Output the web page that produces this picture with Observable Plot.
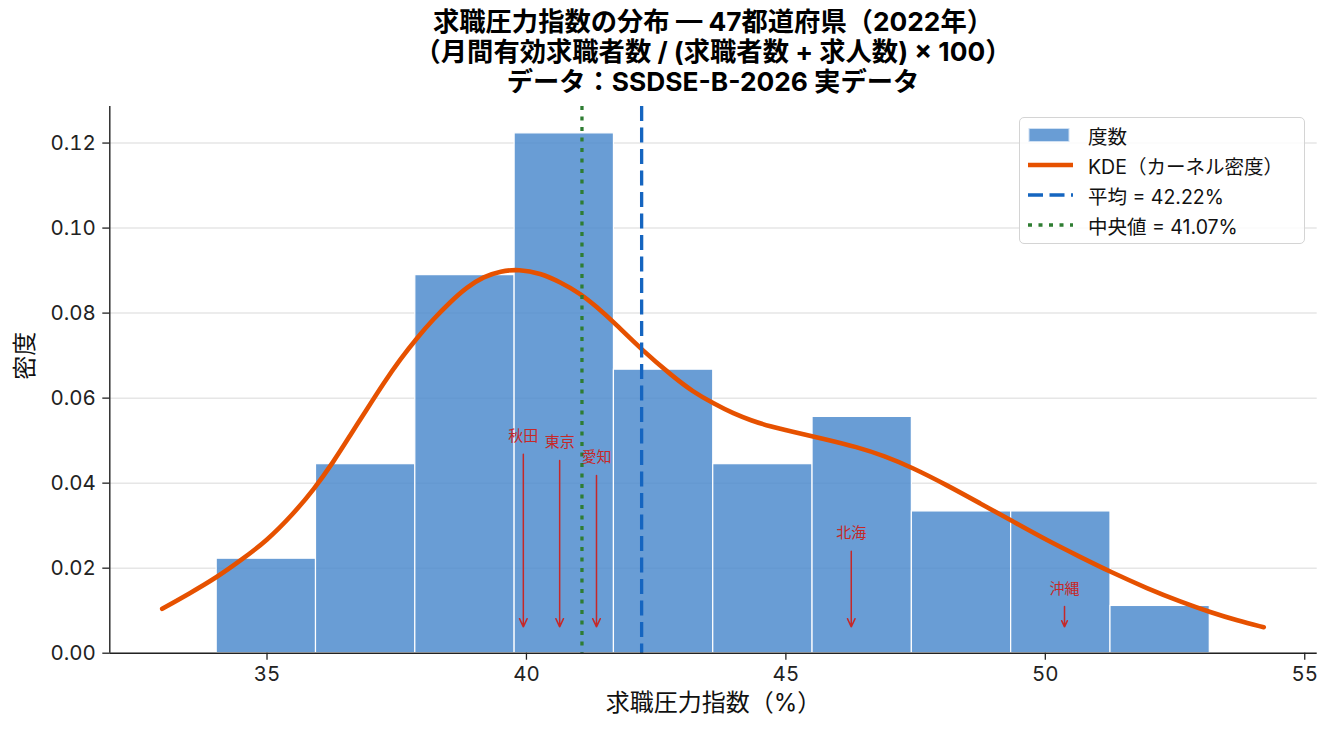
<!DOCTYPE html>
<html>
<head>
<meta charset="utf-8">
<script src="https://cdn.jsdelivr.net/npm/d3@7"></script>
<script src="https://cdn.jsdelivr.net/npm/@observablehq/plot@0.6"></script>
<style>
  html, body { margin: 0; padding: 0; background: #fff; }
  #wrap { position: relative; width: 1333px; height: 735px; font-family: Inter, "Noto Sans CJK JP", "Noto Sans", sans-serif; color: #111; }
  #title { box-sizing: border-box; height: 100px; padding-top: 7px; margin-left: 109px; width: 1208px; text-align: center; font-weight: bold; font-size: 26.3px; line-height: 30px; color: #000; }
  #legend { position: absolute; left: 1019px; top: 117px; width: 286px; height: 127px; box-sizing: border-box; border: 1px solid #d4d4d4; border-radius: 5px; background: rgba(255,255,255,0.85); padding: 2px 0 0 8px; font-size: 19.5px; }
  .row { height: 30px; display: flex; align-items: center; }
  .row svg { width: 46px; height: 20px; margin-right: 14px; flex: none; }
</style>
</head>
<body>
<div id="wrap">
  <div id="title">求職圧力指数の分布 — 47都道府県（2022年）<br>（月間有効求職者数 / (求職者数 + 求人数) × 100）<br>データ：SSDSE-B-2026 実データ</div>
  <div id="chart"></div>
  <div id="legend"></div>
</div>
<script>
// ---- data ----
const binEdges = [34.03, 35.944, 37.858, 39.772, 41.686, 43.6, 45.514, 47.428, 49.342, 51.256, 53.17];
const binCounts = [2, 4, 8, 11, 6, 4, 5, 3, 3, 1];
const nPref = 47;

const kdeX = [32.98, 33.5, 34.04, 34.5, 35.0, 35.5, 35.9, 36.28, 36.6, 36.93, 37.25, 37.57, 37.9, 38.2, 38.53, 38.85, 39.18, 39.5, 39.85, 40.27, 40.65, 41.04, 41.35, 41.68, 42.2, 42.84, 43.2, 43.61, 44.0, 44.32, 44.7, 45.09, 45.73, 46.37, 46.9, 47.43, 48.11, 48.75, 49.36, 50.04, 50.68, 51.26, 51.97, 52.61, 53.19, 53.7, 54.21];
const kdeY = [0.01045, 0.0140, 0.0179, 0.0219, 0.0265, 0.0327, 0.0385, 0.0450, 0.0512, 0.0575, 0.0636, 0.0692, 0.0743, 0.0785, 0.0826, 0.0861, 0.0886, 0.0899, 0.0903, 0.0894, 0.0873, 0.0846, 0.0815, 0.0779, 0.0716, 0.0649, 0.0616, 0.0587, 0.0563, 0.0548, 0.0533, 0.0522, 0.0504, 0.0485, 0.0464, 0.0437, 0.0395, 0.0352, 0.0311, 0.0265, 0.0226, 0.0191, 0.0152, 0.0121, 0.0096, 0.0077, 0.0061];

const meanVal = 42.22;
const medianVal = 41.07;

const annNames = ["秋田", "東京", "愛知", "北海", "沖縄"];
const annX = [39.94, 40.64, 41.35, 46.26, 50.37];
const annTextY = [0.0511, 0.0497, 0.0461, 0.0282, 0.0150];
const annTailY = [0.0468, 0.0453, 0.0418, 0.0240, 0.0110];
const annTipY = 0.0062;

const xTicks = [35, 40, 45, 50, 55];
const yTicks = [0, 0.02, 0.04, 0.06, 0.08, 0.10, 0.12];
const xDomain = [31.97, 55.24];
const yDomain = [0, 0.1286];

// ---- colours ----
const barColor = "#4a89cc";
const kdeColor = "#e65100";
const meanColor = "#1565c0";
const medianColor = "#2e7d32";
const annColor = "#c62828";

// ---- tables ----
const bins = binCounts.map((c, i) => ({
  x1: binEdges[i], x2: binEdges[i + 1],
  density: c / (nPref * (binEdges[i + 1] - binEdges[i]))
}));
const kde = kdeX.map((x, i) => ({x, y: kdeY[i]}));
const ann = annNames.map((name, i) => ({name, x: annX[i], ty: annTextY[i], tail: annTailY[i], tip: annTipY}));

const chart = Plot.plot({
  width: 1333,
  height: 635,
  marginLeft: 109.3,
  marginRight: 16.3,
  marginTop: 6,
  marginBottom: 82.3,
  style: {fontFamily: "Inter, 'Noto Sans CJK JP', 'Noto Sans', sans-serif", background: "transparent", color: "#222"},
  x: {domain: xDomain, label: null},
  y: {domain: yDomain, label: null},
  marks: [
    Plot.gridY(yTicks, {stroke: "#e6e6e6", strokeOpacity: 1, strokeWidth: 1.5}),
    Plot.rect(bins, {x1: "x1", x2: "x2", y1: 0, y2: "density", fill: barColor, fillOpacity: 0.83, stroke: "white", strokeWidth: 1.2}),
    Plot.line(kde, {x: "x", y: "y", stroke: kdeColor, strokeWidth: 4.6, curve: "basis"}),
    Plot.ruleX([meanVal], {stroke: meanColor, strokeWidth: 3.3, strokeDasharray: "15,6.5"}),
    Plot.ruleX([medianVal], {stroke: medianColor, strokeWidth: 3.3, strokeDasharray: "4,6.5"}),
    Plot.arrow(ann, {x1: "x", x2: "x", y1: "tail", y2: "tip", stroke: annColor, strokeWidth: 1.5, headLength: 9, headAngle: 50}),
    Plot.text(ann, {x: "x", y: "ty", text: "name", fill: annColor, fontSize: 15}),
    Plot.ruleX([xDomain[0]], {stroke: "#222", strokeWidth: 1.4}),
    Plot.ruleY([0], {stroke: "#222", strokeWidth: 1.4}),
    Plot.axisY({ticks: yTicks, tickFormat: d3.format(".2f"), tickSize: 7, tickPadding: 7, fontSize: 20.5, label: null, stroke: "#222", strokeWidth: 1.3}),
    Plot.axisX({ticks: xTicks, tickSize: 7, tickPadding: 6, fontSize: 20.5, label: null, stroke: "#222", strokeWidth: 1.3}),
    Plot.text(["求職圧力指数（%）"], {frameAnchor: "bottom", dy: 58, fontSize: 24, fill: "#111", text: d => d}),
    Plot.text(["密度"], {frameAnchor: "left", dx: -84, rotate: -90, fontSize: 24, fill: "#111", text: d => d})
  ]
});
document.getElementById("chart").appendChild(chart);

// ---- legend ----
const legendItems = [
  {label: "度数", sw: `<rect x="1" y="3.5" width="40" height="13" fill="${barColor}" fill-opacity="0.83" stroke="#cfe0f3" stroke-width="1"/>`},
  {label: "KDE（カーネル密度）", sw: `<line x1="0" x2="45" y1="10" y2="10" stroke="${kdeColor}" stroke-width="4.5"/>`},
  {label: "平均 = 42.22%", sw: `<line x1="0" x2="45" y1="10" y2="10" stroke="${meanColor}" stroke-width="3.3" stroke-dasharray="15,6.5"/>`},
  {label: "中央値 = 41.07%", sw: `<line x1="0" x2="45" y1="10" y2="10" stroke="${medianColor}" stroke-width="3.3" stroke-dasharray="4,6.5"/>`}
];
document.getElementById("legend").innerHTML = legendItems.map(d =>
  `<div class="row"><svg viewBox="0 0 46 20">${d.sw}</svg><span>${d.label}</span></div>`).join("");
</script>
</body>
</html>
